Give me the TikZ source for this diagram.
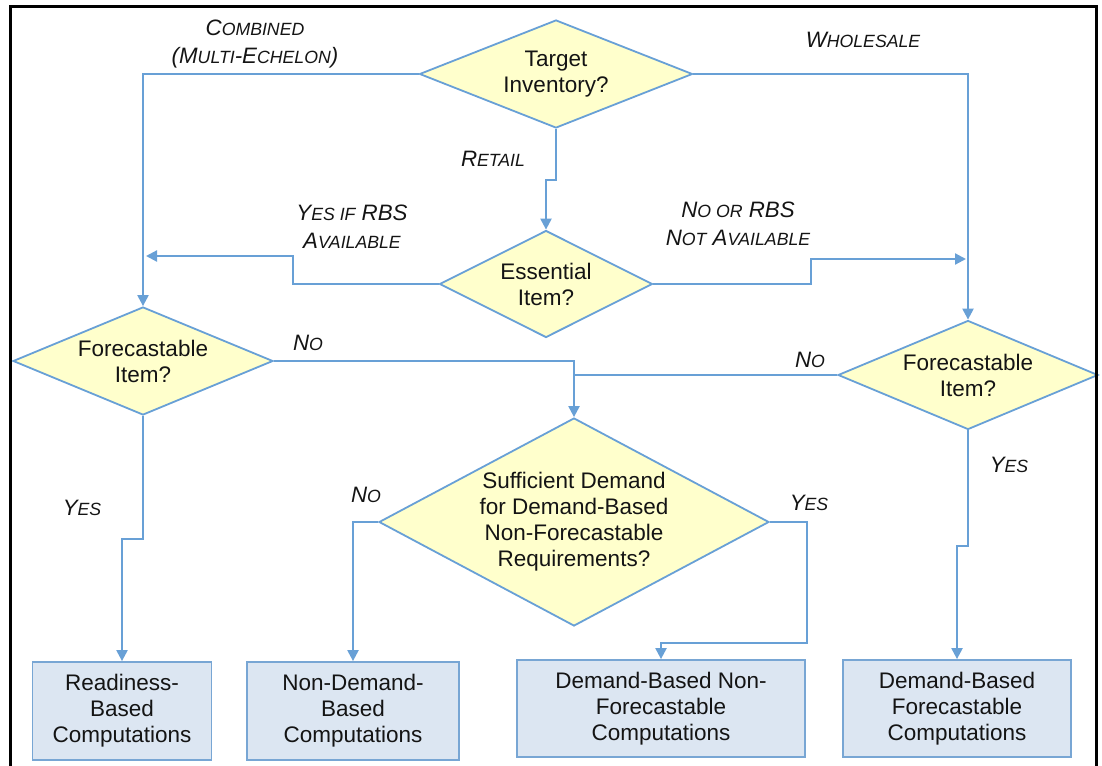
\documentclass[tikz,border=0pt]{standalone}
\usepackage{fontspec}
\setmainfont{Liberation Sans}
\usetikzlibrary{shapes.geometric,arrows.meta}
\definecolor{lineblue}{RGB}{104,160,214}
\definecolor{dfill}{RGB}{255,255,204}
\definecolor{bfill}{RGB}{220,230,242}
\definecolor{bborder}{RGB}{120,166,212}
\definecolor{ink}{RGB}{20,20,20}
\newcommand\smallc[1]{{\fontsize{17.7}{20}\selectfont #1}}
\begin{document}
\begin{tikzpicture}[x=1pt,y=-1pt,
  decision/.style={diamond, draw=lineblue, fill=dfill, line width=1.8pt, inner sep=0pt},
  dtext/.style={text=ink, align=center, font=\fontsize{22.5}{26}\selectfont, inner sep=0pt},
  compbox/.style={rectangle, draw=bborder, fill=bfill, line width=1.8pt, align=center, text=ink, font=\fontsize{22.5}{26}\selectfont, inner sep=0pt},
  conn/.style={draw=lineblue, line width=2.2pt, -{Triangle[length=11pt,width=11pt]}},
  plainline/.style={draw=lineblue, line width=2.2pt},
  lbl/.style={text=ink, align=center, font=\itshape\fontsize{22.3}{28}\selectfont, inner sep=0pt}
]
\useasboundingbox (0,0) rectangle (1102,765);
\clip (0,0) rectangle (1102,765);

% decisions
\node[decision, minimum width=273pt, minimum height=108pt,
  label={[dtext]center:{Target\\Inventory?}}] (ti) at (556,74) {};
\node[decision, minimum width=213pt, minimum height=107pt,
  label={[dtext]center:{Essential\\Item?}}] (ess) at (546,284) {};
\node[decision, minimum width=260pt, minimum height=108pt,
  label={[dtext]center:{Forecastable\\Item?}}] (fl) at (143,361) {};
\node[decision, minimum width=260pt, minimum height=109pt,
  label={[dtext]center:{Forecastable\\Item?}}] (fr) at (968,375) {};
\node[decision, minimum width=390pt, minimum height=208pt,
  label={[dtext]center:{Sufficient Demand\\for Demand-Based\\Non-Forecastable\\Requirements?}}] (sd) at (574,522) {};

% result boxes
\node[compbox, minimum width=179pt, minimum height=98pt] (rb) at (122,711) {Readiness-\\Based\\Computations};
\node[compbox, minimum width=212pt, minimum height=98pt] (nd) at (353,711) {Non-Demand-\\Based\\Computations};
\node[compbox, minimum width=288pt, minimum height=97pt] (dbnf) at (661,708.5) {Demand-Based Non-\\Forecastable\\Computations};
\node[compbox, minimum width=228pt, minimum height=97pt] (dbf) at (957,708.5) {Demand-Based\\Forecastable\\Computations};

% helper coordinates
\coordinate (r2) at (546,180);
\coordinate (y1) at (293,256);
\coordinate (y2) at (146,256);
\coordinate (n1) at (811,259);
\coordinate (n2) at (966,259);
\coordinate (fy) at (122,539);
\coordinate (wy) at (957,546);
\coordinate (sy) at (807,643);

% connectors
\draw[conn] (ti.west) -| (fl.north);
\draw[conn] (ti.east) -| (fr.north);
\draw[conn] (ti.south) |- (r2) -- (ess.north);
\draw[conn] (ess.west) -| (y1) -- (y2);
\draw[conn] (ess.east) -| (n1) -- (n2);
\draw[conn] (fl.east) -| (sd.north);
\draw[plainline] (fr.west) -- (fr.west -| sd.north);
\draw[conn] (fl.south) |- (fy) -- (rb.north);
\draw[conn] (fr.south) |- (wy) -- (dbf.north);
\draw[conn] (sd.west) -| (nd.north);
\draw[conn] (sd.east) -| (sy) -| (dbnf.north);

% labels
\node[lbl] (lcomb) at (255,44) {C\smallc{OMBINED}\\(M\smallc{ULTI}-E\smallc{CHELON})};
\node[lbl] (lwhole) at (863,40) {W\smallc{HOLESALE}};
\node[lbl] (lret) at (493,159) {R\smallc{ETAIL}};
\node[lbl] (lyrbs) at (352,227) {Y\smallc{ES IF} RBS\\A\smallc{VAILABLE}};
\node[lbl] (lnrbs) at (738,224) {N\smallc{O OR} RBS\\N\smallc{OT} A\smallc{VAILABLE}};
\node[lbl] (lnol) at (308,343) {N\smallc{O}};
\node[lbl] (lnor) at (810,360) {N\smallc{O}};
\node[lbl] (lyesl) at (82,508) {Y\smallc{ES}};
\node[lbl] (lyesr) at (1009,465) {Y\smallc{ES}};
\node[lbl] (lnos) at (366,495) {N\smallc{O}};
\node[lbl] (lyess) at (809,503) {Y\smallc{ES}};

% frame
\draw[line width=3.2pt, black] (10.3,790) -- (10.3,6.3) -- (1096.5,6.3) -- (1096.5,790);
\end{tikzpicture}
\end{document}
